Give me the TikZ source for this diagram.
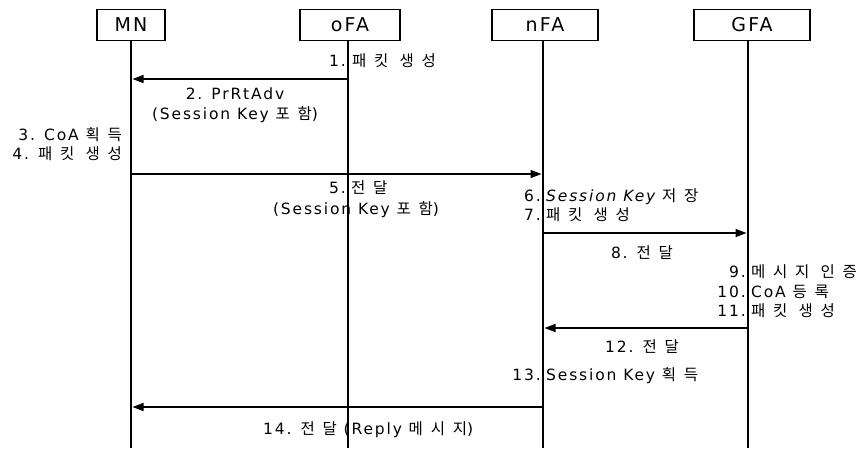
\documentclass[tikz,border=0pt]{standalone}
\usepackage{fontspec}
\setmainfont{DejaVu Sans}[LetterSpace=12]
\newfontfamily\krfont{Noto Sans CJK KR}[LetterSpace=50]
\usetikzlibrary{arrows.meta}
\newcommand\K[1]{{\krfont #1}}
\tikzset{
  actor/.style={draw, line width=1.4pt, minimum height=31pt, inner sep=0pt, font=\fontsize{19}{21}\selectfont},
  life/.style={line width=2.2pt},
  msg/.style={line width=1.3pt, -{Triangle[length=11pt,width=8pt]}, shorten >=0.5pt},
  lbl/.style={inner sep=0pt},
}
\begin{document}
\begin{tikzpicture}[x=1pt,y=-1pt,font=\fontsize{15.5}{18}\selectfont]
\useasboundingbox[fill=white] (0,0) rectangle (864,448);
% actors
\node[actor, minimum width=68pt] (MN) at (131,25) {MN};
\node[actor, minimum width=100pt] (oFA) at (350,25) {oFA};
\node[actor, minimum width=106pt] (nFA) at (545,25) {nFA};
\node[actor, minimum width=116pt] (GFA) at (752,25) {GFA};
% lifeline bottoms
\coordinate (MNb) at (131,448);
\coordinate (oFAb) at (348,448);
\coordinate (nFAb) at (543,448);
\coordinate (GFAb) at (748,448);
\draw[life] (MN.south -| MNb) -- (MNb);
\draw[life] (oFA.south -| oFAb) -- (oFAb);
\draw[life] (nFA.south -| nFAb) -- (nFAb);
\draw[life] (GFA.south -| GFAb) -- (GFAb);
% message anchor points
\coordinate (m2s) at (348,79);  \coordinate (m2e) at (132,79);
\coordinate (m5s) at (132,174); \coordinate (m5e) at (542,174);
\coordinate (m8s) at (544,233); \coordinate (m8e) at (747,233);
\coordinate (m12s) at (747,328); \coordinate (m12e) at (544,328);
\coordinate (m14s) at (542,407); \coordinate (m14e) at (132,407);
\draw[msg] (m2s) -- (m2e);
\draw[msg] (m5s) -- (m5e);
\draw[msg] (m8s) -- (m8e);
\draw[msg] (m12s) -- (m12e);
\draw[msg] (m14s) -- (m14e);
% labels
\node[lbl, anchor=base east] (n1) at (346,66) {1.};
\node[lbl, anchor=base west] (t1) at (352,66) {\K{패킷 생성}};
\node[lbl, anchor=base] (t2a) at (235,99) {2. PrRtAdv};
\node[lbl, anchor=base] (t2b) at (235,119) {(Session Key \K{포함})};
\node[lbl, anchor=base east] (t3) at (122,140) {3. CoA \K{획득}};
\node[lbl, anchor=base east] (t4) at (122,159) {4. \K{패킷 생성}};
\node[lbl, anchor=base east] (n5) at (346,193) {5.};
\node[lbl, anchor=base west] (t5a) at (351,193) {\K{전달}};
\node[lbl, anchor=base] (t5b) at (356,214) {(Session Key \K{포함})};
\node[lbl, anchor=base east] (n6) at (541,201) {6.};
\node[lbl, anchor=base west] (t6) at (546,201) {\itshape Session Key \K{저장}};
\node[lbl, anchor=base east] (n7) at (541,220) {7.};
\node[lbl, anchor=base west] (t7) at (546,220) {\K{패킷 생성}};
\node[lbl, anchor=base] (t8) at (642,258) {8. \K{전달}};
\node[lbl, anchor=base east] (n9) at (746,277) {9.};
\node[lbl, anchor=base west] (t9) at (751,277) {\K{메시지 인증}};
\node[lbl, anchor=base east] (n10) at (746,297) {10.};
\node[lbl, anchor=base west] (t10) at (751,297) {CoA \K{등록}};
\node[lbl, anchor=base east] (n11) at (746,316) {11.};
\node[lbl, anchor=base west] (t11) at (751,316) {\K{패킷 생성}};
\node[lbl, anchor=base] (t12) at (642,352) {12. \K{전달}};
\node[lbl, anchor=base east] (n13) at (541,380) {13.};
\node[lbl, anchor=base west] (t13) at (546,380) {Session Key \K{획득}};
\node[lbl, anchor=base west] (t14) at (263,434) {14. \K{전달} (Reply \K{메시지})};
\end{tikzpicture}
\end{document}
